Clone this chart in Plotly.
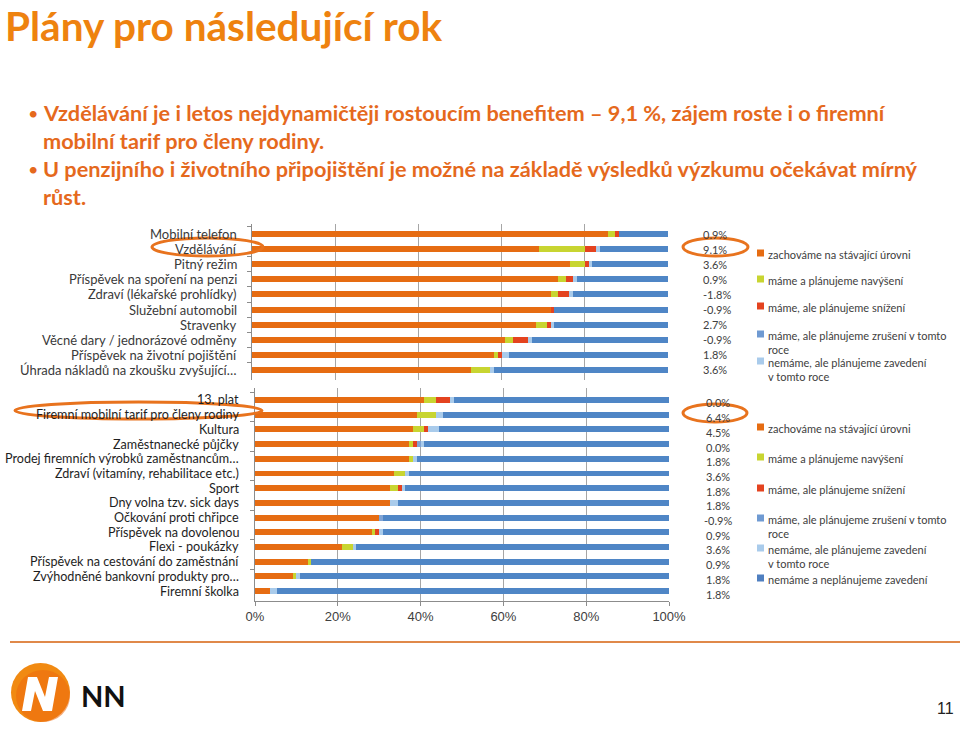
import plotly.graph_objects as go

# ---------------- data ----------------
top_cats = ["Mobilní telefon", "Vzdělávání", "Pitný režim", "Příspěvek na spoření na penzi",
            "Zdraví (lékařské prohlídky)", "Služební automobil", "Stravenky",
            "Věcné dary / jednorázové odměny", "Příspěvek na životní pojištění",
            "Úhrada nákladů na zkoušku zvyšující…"]
top_keep   = [85.5, 69.1, 76.4, 73.6, 71.8, 71.8, 68.2, 60.9, 58.2, 52.7]
top_incr   = [1.8, 10.9, 3.6, 1.8, 1.8, 0.0, 2.7, 1.8, 0.9, 4.5]
top_decr   = [0.9, 2.7, 0.9, 1.8, 2.7, 0.9, 0.9, 3.6, 0.9, 0.0]
top_cancel = [0.0, 0.0, 0.0, 0.0, 0.0, 0.0, 0.0, 0.0, 0.0, 0.0]
top_intro  = [0.0, 0.9, 0.9, 0.9, 0.9, 0.0, 0.9, 0.9, 1.8, 0.9]
top_none   = [11.8, 16.4, 18.2, 21.9, 22.8, 27.3, 27.3, 32.8, 38.2, 41.9]
top_net    = ["0.9%", "9.1%", "3.6%", "0.9%", "-1.8%", "-0.9%", "2.7%", "-0.9%", "1.8%", "3.6%"]

bot_cats = ["13. plat", "Firemní mobilní tarif pro členy rodiny", "Kultura", "Zaměstnanecké půjčky",
            "Prodej firemních výrobků zaměstnancům…", "Zdraví (vitamíny, rehabilitace etc.)",
            "Sport", "Dny volna tzv. sick days", "Očkování proti chřipce", "Příspěvek na dovolenou",
            "Flexi - poukázky", "Příspěvek na cestování do zaměstnání",
            "Zvýhodněné bankovní produkty pro…", "Firemní školka"]
bot_keep   = [40.9, 39.1, 38.2, 37.3, 37.3, 33.6, 32.7, 32.7, 30.0, 28.2, 20.9, 12.7, 9.1, 3.6]
bot_incr   = [2.7, 4.5, 2.7, 0.9, 0.9, 2.7, 1.8, 0.0, 0.0, 0.9, 2.7, 0.9, 0.9, 0.0]
bot_decr   = [3.6, 0.0, 0.9, 0.9, 0.0, 0.0, 0.9, 0.0, 0.0, 0.9, 0.0, 0.0, 0.0, 0.0]
bot_cancel = [0.0, 0.0, 0.0, 0.9, 0.0, 0.0, 0.0, 0.0, 0.9, 0.0, 0.0, 0.0, 0.0, 0.0]
bot_intro  = [0.9, 1.8, 2.7, 0.9, 0.9, 0.9, 0.9, 1.8, 0.0, 0.9, 0.9, 0.0, 0.9, 1.8]
bot_none   = [51.9, 54.6, 55.5, 59.1, 60.9, 62.8, 63.7, 65.5, 69.1, 69.1, 75.5, 86.4, 89.1, 94.6]
bot_net    = ["0.0%", "6.4%", "4.5%", "0.0%", "1.8%", "3.6%", "1.8%", "1.8%", "-0.9%",
              "0.9%", "3.6%", "0.9%", "1.8%", "1.8%"]

series_names = ["zachováme na stávající úrovni", "máme a plánujeme navýšení",
                "máme, ale plánujeme snížení", "máme, ale plánujeme zrušení v tomto<br>roce",
                "nemáme, ale plánujeme zavedení<br>v tomto roce", "nemáme a neplánujeme zavedení"]
series_colors = ["#E66C12", "#C8D531", "#E4431F", "#7FA3D4", "#A9CBEB", "#4F86C6"]
legend_colors = ["#E66C12", "#C8D531", "#E4431F", "#6F9AD2", "#A9CBEB", "#4F7FC0"]

title = "Plány pro následující rok"
bullets = ["Vzdělávání je i letos nejdynamičtěji rostoucím benefitem – 9,1 %, zájem roste i o firemní",
           "mobilní tarif pro členy rodiny.",
           "U penzijního i životního připojištění je možné na základě výsledků výzkumu očekávat mírný",
           "růst."]
x_ticks = [0, 20, 40, 60, 80, 100]

W, H = 960, 737
def px(x): return x / W
def py(y): return 1 - y / H

fig = go.Figure()

top_series = [top_keep, top_incr, top_decr, top_cancel, top_intro, top_none]
bot_series = [bot_keep, bot_incr, bot_decr, bot_cancel, bot_intro, bot_none]
for i, vals in enumerate(top_series):
    fig.add_trace(go.Bar(y=top_cats, x=vals, orientation="h", name=series_names[i],
                         marker=dict(color=series_colors[i], line=dict(width=0)),
                         xaxis="x", yaxis="y", showlegend=False))
for i, vals in enumerate(bot_series):
    fig.add_trace(go.Bar(y=bot_cats, x=vals, orientation="h", name=series_names[i],
                         marker=dict(color=series_colors[i], line=dict(width=0)),
                         xaxis="x2", yaxis="y2", showlegend=False))

grid_c = "#A6A6A6"

fig.update_layout(
    width=W, height=H, margin=dict(l=0, r=0, t=0, b=0, autoexpand=False),
    paper_bgcolor="white", plot_bgcolor="white",
    barmode="stack", bargap=0.6,
    xaxis=dict(domain=[px(252), px(668)], range=[0, 100], tickvals=x_ticks, showgrid=True,
               gridcolor=grid_c, gridwidth=1, showticklabels=False, zeroline=False,
               showline=False, ticks="", anchor="y", automargin=False),
    yaxis=dict(domain=[py(379.8), py(224.2)], autorange="reversed", type="category",
               showline=True, linecolor="#8C8C8C", ticks="outside", ticklen=4,
               tickcolor="#8C8C8C", tickson="boundaries", showgrid=False,
               showticklabels=False, anchor="x", automargin=False),
    xaxis2=dict(domain=[px(255), px(669)], range=[0, 100], tickvals=x_ticks,
                ticktext=[f"{v}%" for v in x_ticks], showgrid=True, gridcolor=grid_c,
                zeroline=False, showline=True, linecolor="#8C8C8C", ticks="outside",
                ticklen=4, tickcolor="#8C8C8C",
                tickfont=dict(family="Liberation Sans", size=13, color="#404040"),
                anchor="y2", automargin=False),
    yaxis2=dict(domain=[py(600.6), py(388.4)], autorange="reversed", type="category",
                showline=True, linecolor="#8C8C8C", ticks="outside", ticklen=4,
                tickcolor="#8C8C8C", tickson="boundaries", showgrid=False,
                showticklabels=False, anchor="x2", automargin=False),
)

ann = []
# category labels
for c in top_cats:
    ann.append(dict(text=c, x=px(239), y=c, xref="paper", yref="y", xanchor="right",
                    yanchor="middle", showarrow=False,
                    font=dict(family="Lato", size=13, color="#3A3A3A")))
for c in bot_cats:
    ann.append(dict(text=c, x=px(241), y=c, xref="paper", yref="y2", xanchor="right",
                    yanchor="middle", showarrow=False,
                    font=dict(family="Lato", size=12.6, color="#1E1E1E")))
# title
ann.append(dict(text=title, x=px(3), y=py(26), xref="paper", yref="paper", xanchor="left",
                yanchor="middle", showarrow=False,
                font=dict(family="Lato", size=40.5, color="#EE820F", weight="bold")))
# bullets
bullet_y = [113, 141, 169, 197]
for i, t in enumerate(bullets):
    ann.append(dict(text=t, x=px(41), y=py(bullet_y[i]), xref="paper", yref="paper",
                    xanchor="left", yanchor="middle", showarrow=False,
                    font=dict(family="Lato", size=21.7, color="#E5691D", weight="bold")))
for yy in (113, 169):
    ann.append(dict(text="•", x=px(33), y=py(yy), xref="paper", yref="paper",
                    xanchor="center", yanchor="middle", showarrow=False,
                    font=dict(family="Lato", size=18, color="#E5691D")))
# net labels
for c, t in zip(top_cats, top_net):
    ann.append(dict(text=t, x=px(701), y=c, xref="paper", yref="y", xanchor="left",
                    yanchor="middle", showarrow=False,
                    font=dict(family="Lato", size=11, color="#404040")))
for c, t in zip(bot_cats, bot_net):
    ann.append(dict(text=t, x=px(718), y=c, xref="paper", yref="y2", xanchor="center",
                    yanchor="middle", showarrow=False, yshift=-3,
                    font=dict(family="Lato", size=11, color="#404040")))

shapes = []
# legends
top_leg_y = [253, 279, 306, 334, 361]
bot_leg_y = [427, 457, 488, 518, 548, 578]
for leg_y in (top_leg_y, bot_leg_y):
    for i, yy in enumerate(leg_y):
        shapes.append(dict(type="rect", xref="paper", yref="paper", x0=px(757), x1=px(764),
                           y0=py(yy + 3.5), y1=py(yy - 3.5), fillcolor=legend_colors[i],
                           line=dict(width=0)))
        ann.append(dict(text=series_names[i], x=px(766), y=py(yy - 7.5), xref="paper",
                        yref="paper", xanchor="left", yanchor="top", align="left",
                        showarrow=False,
                        font=dict(family="Lato", size=11, color="#404040")))

# highlight ellipses
ell = [(152, 263, 238, 256), (683, 748, 238, 256), (15, 262, 402, 419), (683, 747, 404, 422)]
for x0, x1, y0, y1 in ell:
    shapes.append(dict(type="circle", xref="paper", yref="paper", x0=px(x0), x1=px(x1),
                       y0=py(y1), y1=py(y0), line=dict(color="#E8731E", width=3)))

# footer line
shapes.append(dict(type="line", xref="paper", yref="paper", x0=px(10), x1=px(960),
                   y0=py(642), y1=py(642), line=dict(color="#E0894A", width=2)))
# logo circle
shapes.append(dict(type="circle", xref="paper", yref="paper", x0=px(11), x1=px(70),
                   y0=py(722), y1=py(663), fillcolor="#F18A12", line=dict(width=0)))
shapes.append(dict(type="circle", xref="paper", yref="paper", x0=px(16), x1=px(70),
                   y0=py(722), y1=py(670), fillcolor="#EC6A0E", line=dict(width=0),
                   opacity=0.55))
npts = [(22, 711), (28, 677), (37, 677), (45, 697), (49, 677), (58, 677), (52, 711),
        (43, 711), (35, 691), (31, 711)]
path = "M " + " L ".join(f"{px(a):.5f},{py(b):.5f}" for a, b in npts) + " Z"
shapes.append(dict(type="path", xref="paper", yref="paper", path=path, fillcolor="white",
                   line=dict(width=0)))
ann.append(dict(text="NN", x=px(79), y=py(695), xref="paper", yref="paper", xanchor="left",
                yanchor="middle", showarrow=False,
                font=dict(family="Lato", size=29, color="#111111", weight="bold")))
# page number
ann.append(dict(text="11", x=px(945), y=py(708), xref="paper", yref="paper", xanchor="center",
                yanchor="middle", showarrow=False,
                font=dict(family="Liberation Sans", size=16, color="#222222")))

fig.update_layout(annotations=ann, shapes=shapes)
# remove the browser's default 8px body margin so the 960x737 figure fills the window exactly
fig.write_html("out.html", config={"displayModeBar": False},
               post_script="document.body.style.margin='0';")
